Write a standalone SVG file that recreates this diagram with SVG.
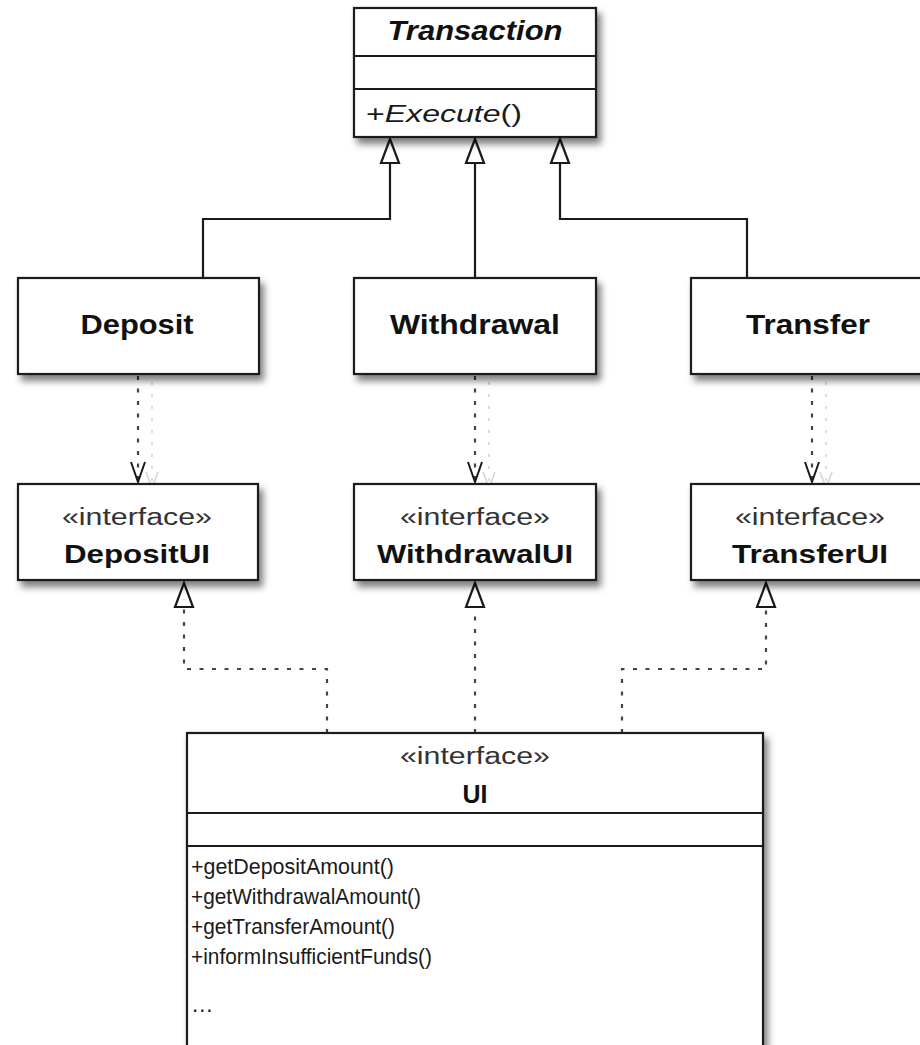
<svg xmlns="http://www.w3.org/2000/svg" width="920" height="1045" viewBox="0 0 920 1045">
  <style>
    .box { fill: #ffffff; stroke: #1a1a1a; stroke-width: 2.2; }
    .div { stroke: #1a1a1a; stroke-width: 2; }
    .name { font-family: "Liberation Sans", Arial, sans-serif; font-weight: bold; font-size: 27px; fill: #111; text-anchor: middle; }
    .iname { font-family: "Liberation Sans", Arial, sans-serif; font-weight: bold; font-size: 25px; fill: #111; text-anchor: middle; }
    .stereo { font-family: "Liberation Sans", Arial, sans-serif; font-size: 23px; fill: #333; text-anchor: middle; }
    .op { font-family: "Liberation Sans", Arial, sans-serif; font-size: 23px; fill: #1a1a1a; }
    .member { font-family: "Liberation Sans", Arial, sans-serif; font-size: 22.5px; fill: #1a1a1a; }
    .solid { fill: none; stroke: #1a1a1a; stroke-width: 2.2; }
    .dots { fill: none; stroke: #444; stroke-width: 2.2; stroke-dasharray: 4 8.5; }
    .ghost { fill: none; stroke: #cfcfcf; stroke-width: 1.5; stroke-dasharray: 3 9; }
    .head { fill: #ffffff; stroke: #1a1a1a; stroke-width: 2.2; stroke-linejoin: miter; }
    .open { fill: none; stroke: #1a1a1a; stroke-width: 2; }
    .openghost { fill: none; stroke: #d4d4d4; stroke-width: 1.5; }
  </style>
  <defs>
    <filter id="shadow" x="-10%" y="-10%" width="130%" height="140%">
      <feDropShadow dx="4" dy="6" stdDeviation="3.5" flood-color="#000" flood-opacity="0.5"/>
    </filter>
  </defs>

  <rect width="920" height="1045" fill="#ffffff"/>

  <!-- connectors -->
  <g id="connectors">
    <!-- generalizations to Transaction -->
    <polyline class="solid" points="203,278 203,219 390,219 390,163"/>
    <polyline class="solid" points="475,278 475,163"/>
    <polyline class="solid" points="747,278 747,219 560,219 560,163"/>
    <polygon class="head" points="390,139 381,163 399,163"/>
    <polygon class="head" points="475,139 466,163 484,163"/>
    <polygon class="head" points="560,139 551,163 569,163"/>

    <!-- dependencies on the UI interfaces -->
    <line class="ghost" x1="152" y1="382" x2="152" y2="486"/>
    <polyline class="openghost" points="146,472 152,488 158,472"/>
    <line class="dots" x1="138" y1="376" x2="138" y2="482"/>
    <polyline class="open" points="131,462 138,482 145,462"/>

    <line class="ghost" x1="489" y1="382" x2="489" y2="486"/>
    <polyline class="openghost" points="483,472 489,488 495,472"/>
    <line class="dots" x1="475" y1="376" x2="475" y2="482"/>
    <polyline class="open" points="468,462 475,482 482,462"/>

    <line class="ghost" x1="826" y1="382" x2="826" y2="486"/>
    <polyline class="openghost" points="820,472 826,488 832,472"/>
    <line class="dots" x1="812" y1="376" x2="812" y2="482"/>
    <polyline class="open" points="805,462 812,482 819,462"/>

    <!-- realizations from UI -->
    <polyline class="dots" points="327,733 327,669 184,669 184,607"/>
    <polyline class="dots" points="475,733 475,607"/>
    <polyline class="dots" points="622,733 622,669 766,669 766,607"/>
    <polygon class="head" points="184,583 175,607 193,607"/>
    <polygon class="head" points="475,583 466,607 484,607"/>
    <polygon class="head" points="766,583 757,607 775,607"/>
  </g>

  <!-- Transaction -->
  <g id="transaction">
    <rect class="box" x="354" y="8" width="242" height="129" filter="url(#shadow)"/>
    <line class="div" x1="354" y1="56" x2="596" y2="56"/>
    <line class="div" x1="354" y1="89" x2="596" y2="89"/>
    <text class="name" x="475" y="40" font-style="italic" textLength="175" lengthAdjust="spacingAndGlyphs">Transaction</text>
    <text class="op" x="366" y="122" textLength="156" lengthAdjust="spacingAndGlyphs">+<tspan font-style="italic">Execute</tspan>()</text>
  </g>

  <!-- Deposit -->
  <g id="deposit">
    <rect class="box" x="18" y="278" width="241" height="96" filter="url(#shadow)"/>
    <text class="name" x="137" y="334" textLength="113" lengthAdjust="spacingAndGlyphs">Deposit</text>
  </g>

  <!-- Withdrawal -->
  <g id="withdrawal">
    <rect class="box" x="354" y="278" width="242" height="96" filter="url(#shadow)"/>
    <text class="name" x="475" y="334" textLength="170" lengthAdjust="spacingAndGlyphs">Withdrawal</text>
  </g>

  <!-- Transfer -->
  <g id="transfer">
    <rect class="box" x="691" y="278" width="242" height="96" filter="url(#shadow)"/>
    <text class="name" x="808" y="334" textLength="124" lengthAdjust="spacingAndGlyphs">Transfer</text>
  </g>

  <!-- DepositUI -->
  <g id="deposit-ui">
    <rect class="box" x="18" y="484" width="240" height="96" filter="url(#shadow)"/>
    <text class="stereo" x="137" y="525" textLength="150" lengthAdjust="spacingAndGlyphs">«interface»</text>
    <text class="iname" x="137" y="563" textLength="146" lengthAdjust="spacingAndGlyphs">DepositUI</text>
  </g>

  <!-- WithdrawalUI -->
  <g id="withdrawal-ui">
    <rect class="box" x="354" y="484" width="242" height="96" filter="url(#shadow)"/>
    <text class="stereo" x="475" y="525" textLength="150" lengthAdjust="spacingAndGlyphs">«interface»</text>
    <text class="iname" x="475" y="563" textLength="196" lengthAdjust="spacingAndGlyphs">WithdrawalUI</text>
  </g>

  <!-- TransferUI -->
  <g id="transfer-ui">
    <rect class="box" x="691" y="484" width="242" height="96" filter="url(#shadow)"/>
    <text class="stereo" x="810" y="525" textLength="150" lengthAdjust="spacingAndGlyphs">«interface»</text>
    <text class="iname" x="810" y="563" textLength="156" lengthAdjust="spacingAndGlyphs">TransferUI</text>
  </g>

  <!-- UI -->
  <g id="ui">
    <rect class="box" x="187" y="733" width="576" height="330" filter="url(#shadow)"/>
    <line class="div" x1="187" y1="813" x2="763" y2="813"/>
    <line class="div" x1="187" y1="846" x2="763" y2="846"/>
    <text class="stereo" x="475" y="764" textLength="150" lengthAdjust="spacingAndGlyphs">«interface»</text>
    <text class="iname" x="475" y="803">UI</text>
    <text class="member" x="191" y="874" textLength="203" lengthAdjust="spacingAndGlyphs">+getDepositAmount()</text>
    <text class="member" x="191" y="904" textLength="230" lengthAdjust="spacingAndGlyphs">+getWithdrawalAmount()</text>
    <text class="member" x="191" y="934" textLength="204" lengthAdjust="spacingAndGlyphs">+getTransferAmount()</text>
    <text class="member" x="191" y="964" textLength="241" lengthAdjust="spacingAndGlyphs">+informInsufficientFunds()</text>
    <text class="member" x="191" y="1012" fill="#555">…</text>
  </g>
</svg>
